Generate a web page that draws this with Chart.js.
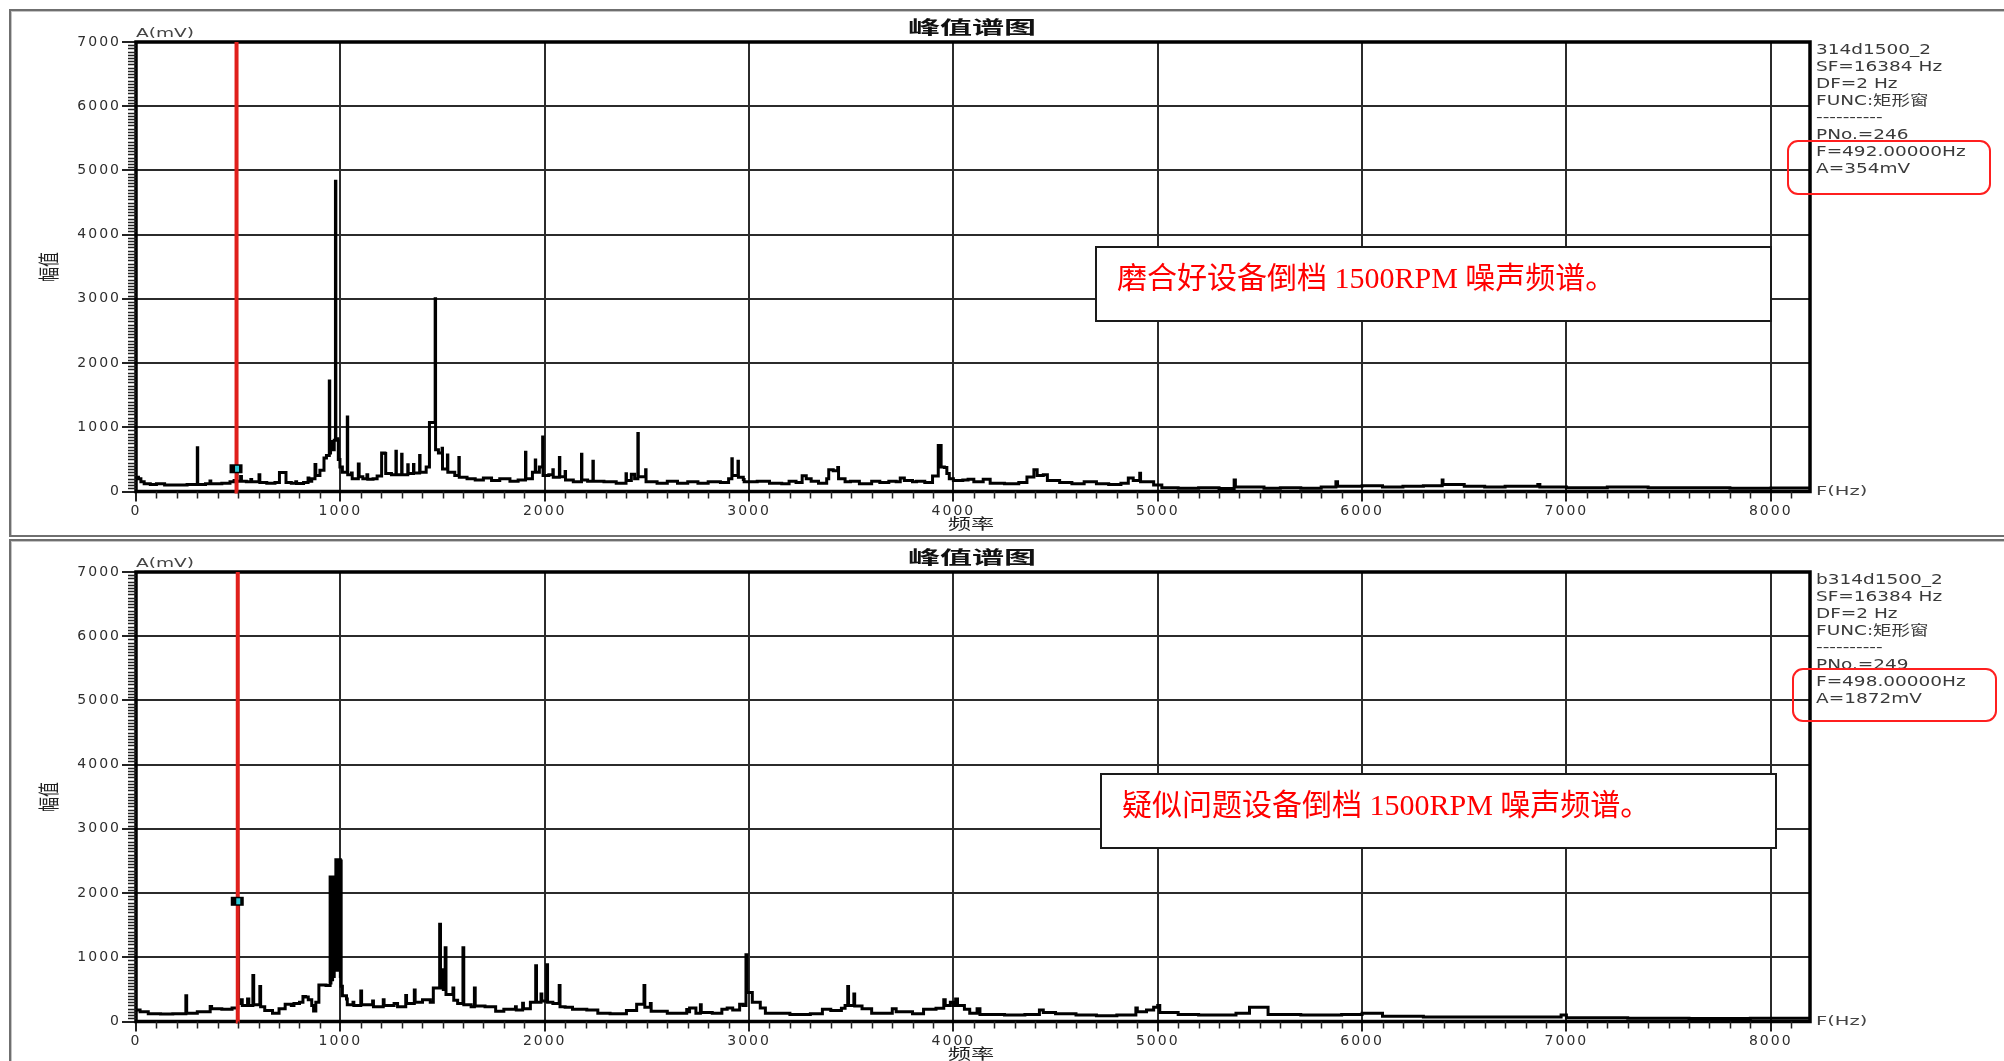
<!DOCTYPE html>
<html>
<head>
<meta charset="utf-8">
<script src="https://cdn.jsdelivr.net/npm/chart.js@4.4.0/dist/chart.umd.min.js"></script>
<style>
  html, body { margin: 0; padding: 0; background: #fff; width: 2004px; height: 1061px; overflow: hidden; }
  .panel { position: absolute; left: 9px; width: 2010px; border: 2px solid #6f6f6f; box-shadow: inset 1px 1px 0 #c4c4c4; }
  #p1 { top: 9px; height: 524px; }
  #p2 { top: 539px; height: 540px; }
  canvas { position: absolute; left: 0; }
  #c1 { top: 0; }
  #c2 { top: 530px; }
</style>
</head>
<body>
<div class="panel" id="p1"></div>
<div class="panel" id="p2"></div>
<canvas id="c1" width="2004" height="540" style="width:2004px;height:540px"></canvas>
<canvas id="c2" width="2004" height="531" style="width:2004px;height:531px"></canvas>
<script>
// axis ticks
const xTicks = [0, 1000, 2000, 3000, 4000, 5000, 6000, 7000, 8000];
const yTicks = [0, 1000, 2000, 3000, 4000, 5000, 6000, 7000];
const freqMax = 8192;

// spectrum of the run-in (good) gearbox: [Hz, mV]
const spectrumGood = [
  [0,220],[12,200],[24,150],[40,120],[70,110],[100,120],[140,100],[200,100],[250,110],[300,680],[302,110],
  [340,120],[362,165],[366,120],[420,130],[460,150],[480,170],[492,354],[494,160],[512,235],[516,160],
  [540,150],[562,185],[566,150],[602,260],[606,140],[640,130],[680,140],[702,295],[730,295],[734,140],
  [760,130],[782,150],[786,125],[820,140],[842,210],[846,160],[860,200],[876,420],[880,250],[900,330],
  [920,520],[932,560],[946,1720],[948,600],[952,780],[962,780],[966,650],[970,800],[976,4830],[978,820],
  [988,800],[990,500],[998,380],[1010,300],[1034,1160],[1036,260],[1054,290],[1058,200],[1088,430],[1092,230],
  [1110,200],[1130,260],[1134,190],[1160,200],[1180,240],[1202,600],[1218,590],[1222,280],[1250,260],
  [1272,625],[1274,260],[1300,580],[1302,260],[1330,415],[1332,280],[1358,420],[1360,290],[1388,560],
  [1390,300],[1420,380],[1436,1075],[1456,1075],[1464,3000],[1466,650],[1480,600],[1498,675],[1500,350],
  [1524,570],[1526,300],[1560,250],[1580,530],[1582,220],[1620,200],[1660,180],[1700,210],[1740,170],
  [1780,200],[1830,160],[1870,180],[1906,610],[1908,200],[1940,300],[1954,490],[1956,300],[1974,380],
  [1990,850],[1992,250],[2020,260],[2040,340],[2042,220],[2072,530],[2074,230],[2100,310],[2102,180],
  [2140,150],[2180,580],[2182,180],[2210,160],[2236,470],[2238,160],[2290,150],[2350,130],[2398,275],
  [2400,170],[2424,270],[2440,200],[2456,905],[2458,230],[2494,340],[2496,150],[2550,130],[2600,160],
  [2650,130],[2700,150],[2750,130],[2800,150],[2860,140],[2900,200],[2916,510],[2918,250],[2946,470],
  [2948,220],[2972,185],[2976,150],[3040,160],[3100,130],[3160,120],[3196,160],[3230,140],[3260,245],
  [3280,200],[3304,160],[3340,130],[3380,200],[3390,340],[3412,325],[3434,375],[3438,200],[3470,150],
  [3496,160],[3540,120],[3600,160],[3640,140],[3684,160],[3720,150],[3740,210],[3760,170],[3800,150],
  [3820,160],[3860,140],[3898,240],[3926,715],[3940,380],[3956,375],[3968,280],[3980,200],[4000,170],
  [4046,180],[4072,190],[4100,150],[4146,190],[4180,130],[4250,120],[4320,140],[4360,225],[4394,340],
  [4410,250],[4440,260],[4460,170],[4520,140],[4580,120],[4640,150],[4700,120],[4760,110],[4820,130],
  [4856,210],[4880,170],[4912,285],[4916,150],[4980,100],[5020,60],[5100,50],[5200,60],[5300,45],
  [5374,180],[5380,70],[5450,70],[5520,50],[5600,60],[5700,50],[5800,70],[5872,150],[5880,80],[6000,90],
  [6100,70],[6200,80],[6300,90],[6392,180],[6396,110],[6500,80],[6600,70],[6700,80],[6860,110],[6870,70],
  [7000,60],[7200,70],[7400,60],[7600,60],[7800,50],[8000,55],[8192,50]
];

// spectrum of the suspect gearbox: [Hz, mV]
const spectrumSuspect = [
  [0,180],[20,150],[60,120],[120,115],[180,120],[244,400],[248,130],[300,150],[363,235],[370,200],
  [420,190],[470,210],[498,1872],[502,280],[514,340],[520,250],[546,350],[552,250],[572,715],[576,260],
  [606,545],[610,230],[630,170],[668,130],[700,200],[730,270],[760,250],[773,280],[800,300],[817,390],
  [830,380],[843,340],[860,250],[869,165],[880,300],[895,570],[930,560],
  [950,2250],[952,600],[954,2250],[956,700],[958,2250],[960,650],[962,2250],[964,800],[966,2250],[968,700],
  [970,2250],[972,900],[974,2250],[976,800],[978,2520],[980,1100],[982,2520],[984,900],[986,2520],[988,1200],
  [990,2520],[992,800],[994,2520],[996,1000],[998,2520],[1000,700],[1002,2500],[1004,550],
  [1010,400],[1030,350],[1034,260],[1062,300],[1066,250],[1100,475],[1104,260],[1158,320],[1162,230],
  [1210,340],[1214,250],[1263,280],[1280,230],[1320,405],[1324,280],[1362,490],[1366,300],[1402,340],
  [1440,300],[1455,520],[1472,520],[1486,1515],[1490,520],[1500,805],[1504,500],[1513,1150],[1517,420],
  [1551,520],[1555,330],[1574,280],[1600,1150],[1604,260],[1640,230],[1656,520],[1660,240],[1708,230],
  [1760,160],[1800,190],[1857,230],[1861,180],[1892,285],[1896,200],[1930,300],[1956,870],[1960,300],
  [1982,430],[1986,320],[2010,885],[2014,300],[2040,280],[2071,560],[2075,230],[2100,220],[2136,190],
  [2206,180],[2260,130],[2320,120],[2400,170],[2450,270],[2486,560],[2490,220],[2517,280],[2521,160],
  [2600,130],[2695,185],[2700,150],[2709,210],[2740,130],[2762,260],[2766,140],[2820,130],[2867,190],
  [2893,210],[2920,180],[2954,270],[2970,250],[2985,1040],[2990,450],[3010,450],[3016,300],[3055,210],
  [3080,130],[3200,110],[3300,120],[3359,190],[3400,170],[3452,205],[3470,250],[3483,545],[3487,250],
  [3513,430],[3517,240],[3553,200],[3600,130],[3701,200],[3720,150],[3800,120],[3854,190],[3915,205],
  [3953,340],[3960,250],[3985,300],[4000,250],[4011,350],[4020,250],[4054,190],[4080,130],[4116,200],
  [4130,110],[4250,100],[4350,110],[4421,180],[4440,140],[4500,120],[4600,100],[4700,90],[4800,100],
  [4893,210],[4900,150],[4945,180],[4980,220],[5000,250],[5010,140],[5100,110],[5200,100],[5300,100],
  [5383,130],[5449,220],[5520,220],[5540,110],[5700,100],[5900,110],[6000,130],[6100,80],[6300,70],
  [6500,70],[6700,70],[6974,100],[7000,60],[7300,50],[7600,45],[7900,50],[8192,45]
];

// cursor readouts
const cursorGood = { f: 492, a: 354 };
const cursorSuspect = { f: 498, a: 1872 };

const infoGood = ['314d1500_2', 'SF=16384 Hz', 'DF=2 Hz', 'FUNC:矩形窗', '----------', 'PNo.=246', 'F=492.00000Hz', 'A=354mV'];
const infoSuspect = ['b314d1500_2', 'SF=16384 Hz', 'DF=2 Hz', 'FUNC:矩形窗', '----------', 'PNo.=249', 'F=498.00000Hz', 'A=1872mV'];

const panelGood = {
  title: '峰值谱图', info: infoGood, cursor: cursorGood,
  note: '磨合好设备倒档 1500RPM 噪声频谱。',
  noteBox: [1096, 247, 1771, 321], noteAt: [1117, 280],
  redBox: [1788, 141, 1990, 194]
};
const panelSuspect = {
  title: '峰值谱图', info: infoSuspect, cursor: cursorSuspect,
  note: '疑似问题设备倒档 1500RPM 噪声频谱。',
  noteBox: [1101, 244, 1776, 318], noteAt: [1122, 277],
  redBox: [1793, 139, 1996, 191]
};

function stretchText(ctx, txt, x, y, font, sx, align, color) {
  ctx.save();
  ctx.letterSpacing = '0px';
  ctx.font = font;
  ctx.fillStyle = color;
  ctx.textAlign = align;
  ctx.textBaseline = 'middle';
  ctx.translate(x, y);
  ctx.scale(sx, 1);
  ctx.fillText(txt, 0, 0);
  ctx.restore();
}

const decor = {
  id: 'decor',
  beforeDraw(chart) {
    chart.ctx.letterSpacing = '2px';
  },
  afterDatasetsDraw(chart, args, o) {
    const ctx = chart.ctx, a = chart.chartArea;
    const xs = chart.scales.x, ys = chart.scales.y;
    ctx.save();
    // plot frame
    ctx.strokeStyle = '#000';
    ctx.lineWidth = 3.5;
    ctx.strokeRect(a.left, a.top, a.right - a.left, a.bottom - a.top);
    // cursor
    const cx = xs.getPixelForValue(o.cursor.f);
    const cy = ys.getPixelForValue(o.cursor.a);
    ctx.strokeStyle = '#e0201c';
    ctx.lineWidth = 4;
    ctx.beginPath();
    ctx.moveTo(cx, a.top);
    ctx.lineTo(cx, a.bottom + 2);
    ctx.stroke();
    ctx.fillStyle = '#000';
    ctx.fillRect(cx - 7, cy - 4.5, 13, 9);
    ctx.fillStyle = '#2cc9d6';
    ctx.fillRect(cx - 1.5, cy - 3, 4, 6);
    ctx.restore();
  },
  afterDraw(chart, args, o) {
    const ctx = chart.ctx, a = chart.chartArea;
    const xs = chart.scales.x, ys = chart.scales.y;
    ctx.save();
    ctx.letterSpacing = '0px';
    // minor ticks
    ctx.strokeStyle = '#222';
    ctx.lineWidth = 1.5;
    ctx.beginPath();
    for (let f = 100; f < freqMax; f += 100) {
      if (f % 1000 === 0) continue;
      const px = Math.round(xs.getPixelForValue(f)) + 0.5;
      ctx.moveTo(px, a.bottom);
      ctx.lineTo(px, a.bottom + 7);
    }
    for (let v = 50; v < 7000; v += 50) {
      if (v % 1000 === 0) continue;
      const py = Math.round(ys.getPixelForValue(v)) + 0.5;
      ctx.moveTo(a.left - 8, py);
      ctx.lineTo(a.left, py);
    }
    ctx.stroke();

    const mid = (a.left + a.right) / 2;
    stretchText(ctx, o.title, mid - 1, 27.5, 'bold 18px "Noto Sans CJK SC"', 1.78, 'center', '#111');
    stretchText(ctx, 'A(mV)', a.left, 33.5, '12px "DejaVu Sans"', 1.55, 'left', '#444');
    stretchText(ctx, 'F(Hz)', 1816, a.bottom, '13px "DejaVu Sans"', 1.5, 'left', '#444');
    stretchText(ctx, '频率', mid - 2, 523, '15px "Noto Sans CJK SC"', 1.55, 'center', '#222');

    // rotated y title
    ctx.save();
    ctx.translate(48, 267);
    ctx.scale(1.4, 1);
    ctx.rotate(-Math.PI / 2);
    ctx.font = '15px "Noto Sans CJK SC"';
    ctx.fillStyle = '#222';
    ctx.textAlign = 'center';
    ctx.textBaseline = 'middle';
    ctx.fillText('幅值', 0, 0);
    ctx.restore();

    // info block
    o.info.forEach((line, i) => {
      stretchText(ctx, line, 1816, 50.6 + i * 16.95, '14px "DejaVu Sans", "Noto Sans CJK SC"', 1.32, 'left', '#3a3a3a');
    });

    // red highlight box
    const r = o.redBox;
    ctx.strokeStyle = '#ff1f1f';
    ctx.lineWidth = 2;
    ctx.beginPath();
    ctx.roundRect(r[0], r[1], r[2] - r[0], r[3] - r[1], 10);
    ctx.stroke();

    // note box
    const b = o.noteBox;
    ctx.fillStyle = '#fff';
    ctx.fillRect(b[0], b[1], b[2] - b[0], b[3] - b[1]);
    ctx.strokeStyle = '#1a1a1a';
    ctx.lineWidth = 2;
    ctx.strokeRect(b[0], b[1], b[2] - b[0], b[3] - b[1]);
    ctx.font = '30px "Liberation Serif", "Noto Sans CJK SC"';
    ctx.fillStyle = '#ff0000';
    ctx.textAlign = 'left';
    ctx.textBaseline = 'middle';
    ctx.fillText(o.note, o.noteAt[0], o.noteAt[1]);
    ctx.restore();
  }
};

function makeChart(canvasId, series, panel) {
  const canvas = document.getElementById(canvasId);
  const h = canvas.height;
  const tickFont = { family: 'DejaVu Sans', size: 14 };
  const plain = v => String(v);
  return new Chart(canvas.getContext('2d'), {
    type: 'line',
    data: {
      datasets: [{
        data: series.map(p => ({ x: p[0], y: p[1] })),
        borderColor: '#000',
        borderWidth: 3,
        pointRadius: 0,
        stepped: true,
        fill: false
      }]
    },
    options: {
      responsive: false,
      animation: false,
      events: [],
      layout: { padding: { left: 56, right: 194, top: 42, bottom: h - 491.5 - 30 } },
      plugins: {
        legend: { display: false },
        tooltip: { enabled: false },
        decor: panel
      },
      scales: {
        x: {
          type: 'linear', min: 0, max: freqMax,
          afterBuildTicks: s => { s.ticks = xTicks.map(v => ({ value: v })); },
          afterFit: s => { s.height = 30; },
          border: { display: false },
          grid: { color: '#2b2b2b', lineWidth: 2, tickLength: 10, tickColor: '#222', tickWidth: 2 },
          ticks: { font: tickFont, color: '#2e2e2e', padding: 1, maxRotation: 0, autoSkip: false, callback: plain }
        },
        y: {
          type: 'linear', min: 0, max: 7000,
          afterBuildTicks: s => { s.ticks = yTicks.map(v => ({ value: v })); },
          afterFit: s => { s.width = 80; },
          border: { display: false },
          grid: { color: '#2b2b2b', lineWidth: 2, tickLength: 14, tickColor: '#222', tickWidth: 2 },
          ticks: { font: tickFont, color: '#2e2e2e', padding: 1, autoSkip: false, callback: plain }
        }
      }
    },
    plugins: [decor]
  });
}

makeChart('c1', spectrumGood, panelGood);
makeChart('c2', spectrumSuspect, panelSuspect);
</script>
</body>
</html>
